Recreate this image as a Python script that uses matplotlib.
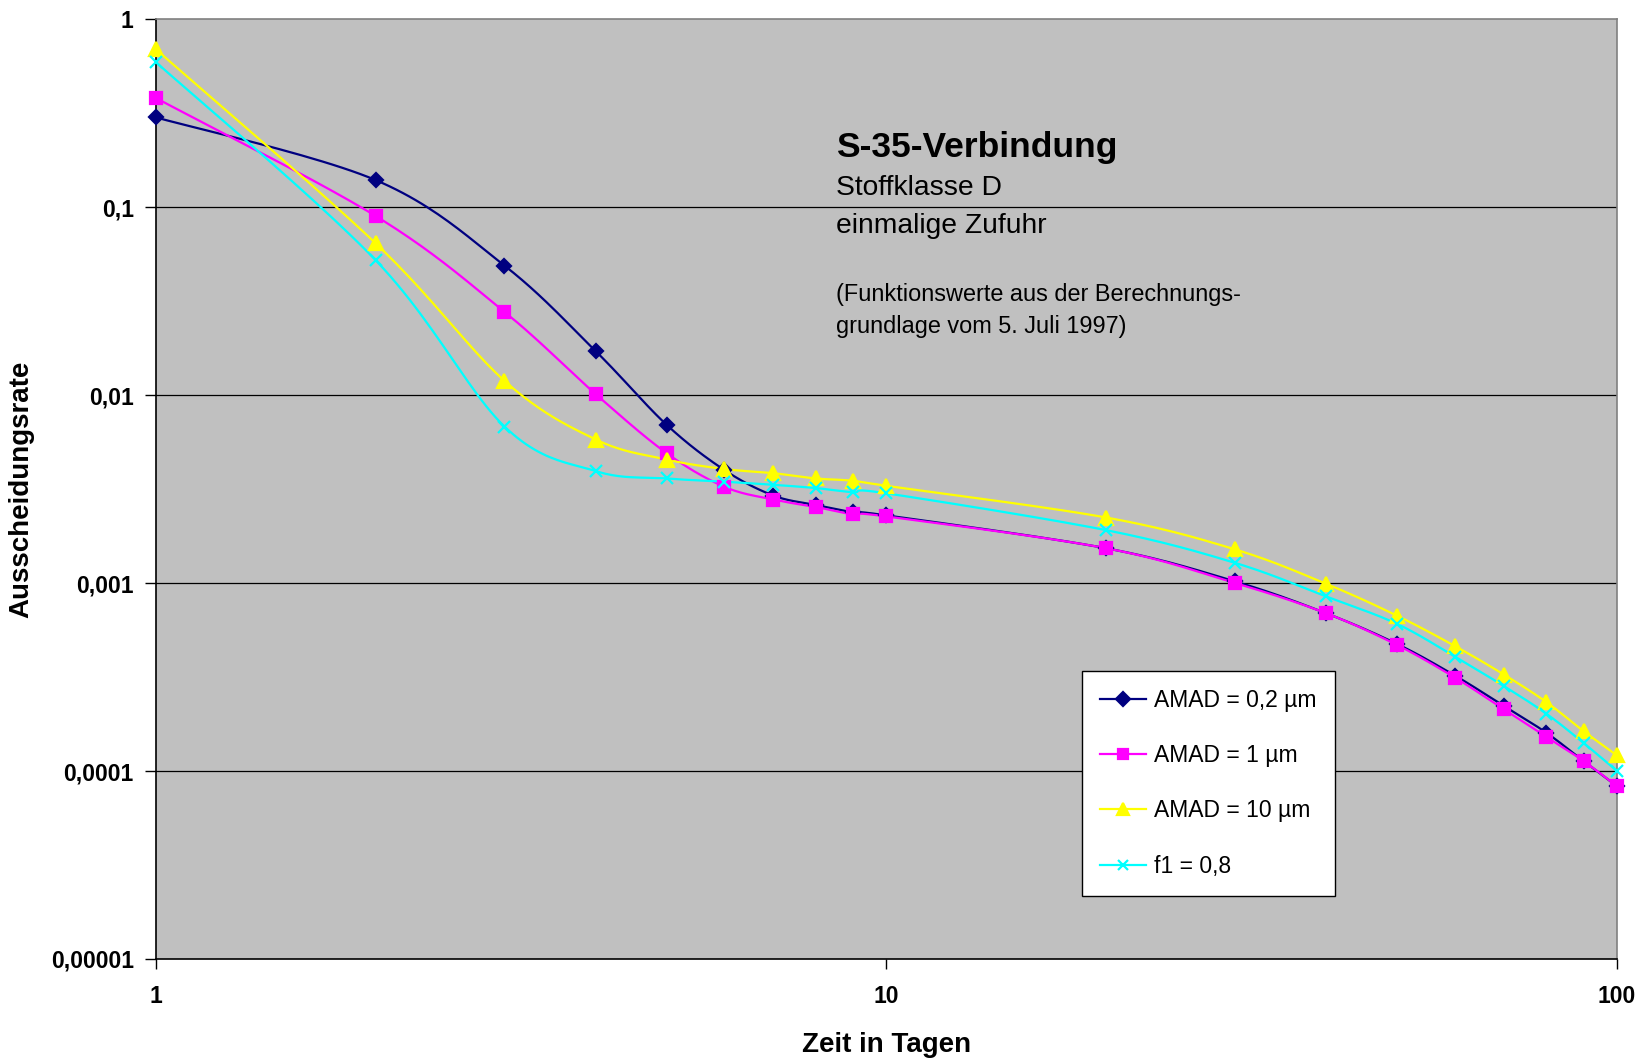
import numpy as np
import matplotlib
matplotlib.use('Agg')
import matplotlib.pyplot as plt
from matplotlib.lines import Line2D
from matplotlib.ticker import FixedLocator, FixedFormatter, NullLocator

plt.rcParams['font.family'] = ['Liberation Sans', 'DejaVu Sans']

# time in days
days = [1, 2, 3, 4, 5, 6, 7, 8, 9, 10, 20, 30, 40, 50, 60, 70, 80, 90, 100]

amad_02 = [0.30, 0.139, 0.0488, 0.0171, 0.00695, 0.00399, 0.00292, 0.0026, 0.00238,
           0.00229, 0.00153, 0.00102, 0.00069, 0.000474, 0.000322, 0.000222,
           0.00016, 0.000113, 0.000083]
amad_1 = [0.38, 0.0895, 0.0277, 0.0101, 0.00491, 0.00325, 0.00278, 0.00254, 0.00232,
          0.00226, 0.00153, 0.0010, 0.00069, 0.000468, 0.000314, 0.000213,
          0.000152, 0.000113, 0.000083]
amad_10 = [0.69, 0.064, 0.0119, 0.0058, 0.00454, 0.00404, 0.00384, 0.0036, 0.0035,
           0.00329, 0.00223, 0.00151, 0.00099, 0.00067, 0.000462, 0.000326,
           0.000233, 0.000163, 0.000121]
f1_08 = [0.59, 0.052, 0.0068, 0.00394, 0.0036, 0.00346, 0.00333, 0.0032, 0.00304,
         0.0030, 0.00191, 0.00128, 0.000848, 0.000606, 0.000406, 0.000283,
         0.000202, 0.000141, 0.0001]

series_labels = ['AMAD = 0,2 µm', 'AMAD = 1 µm', 'AMAD = 10 µm', 'f1 = 0,8']
y_ticks = [1, 0.1, 0.01, 0.001, 0.0001, 0.00001]
y_tick_labels = ['1', '0,1', '0,01', '0,001', '0,0001', '0,00001']
x_ticks = [1, 10, 100]
x_tick_labels = ['1', '10', '100']


def smooth_line(x, y, steps=24):
    """Excel-like smoothed line (Catmull-Rom beziers) drawn in log-log space"""
    pts = np.column_stack([np.log10(x), np.log10(y)])
    pts = np.vstack([pts[0], pts, pts[-1]])
    t = np.linspace(0, 1, steps, endpoint=False)[:, None]
    out = []
    for i in range(1, len(pts) - 2):
        p0, p1, p2, p3 = pts[i - 1], pts[i], pts[i + 1], pts[i + 2]
        c1 = p1 + (p2 - p0) / 6
        c2 = p2 - (p3 - p1) / 6
        seg = ((1 - t) ** 3) * p1 + 3 * ((1 - t) ** 2) * t * c1 \
            + 3 * (1 - t) * t ** 2 * c2 + t ** 3 * p2
        out.append(seg)
    out.append(pts[-1][None, :])
    out = np.vstack(out)
    return 10 ** out[:, 0], 10 ** out[:, 1]


fig = plt.figure(figsize=(16.52, 10.60), dpi=100)
ax = fig.add_axes([0.0944, 0.0953, 0.8844, 0.8867])
ax.set_facecolor('#C0C0C0')
ax.set_xscale('log')
ax.set_yscale('log')
ax.set_xlim(1, 100)
ax.set_ylim(0.00001, 1)

for yt in y_ticks[1:-1]:
    ax.axhline(yt, color='black', lw=0.9, zorder=1)

styles = [
    dict(color='#000080', marker='D', ms=7.5),
    dict(color='#FF00FF', marker='s', ms=8),
    dict(color='#FFFF00', marker='^', ms=9.5),
    dict(color='#00FFFF', marker='x', ms=8.5),
]
handles = []
for vals, st, lab in zip([amad_02, amad_1, amad_10, f1_08], styles, series_labels):
    sx, sy = smooth_line(days, vals)
    ax.plot(sx, sy, color=st['color'], lw=1.6, zorder=3, clip_on=False)
    ax.plot(days, vals, ls='none', marker=st['marker'], ms=st['ms'],
            color=st['color'], mew=1.6, zorder=4, clip_on=False)
    handles.append(Line2D([], [], color=st['color'], lw=1.6, marker=st['marker'],
                          ms=st['ms'] * 0.9, mew=1.6, label=lab))

ax.xaxis.set_major_locator(FixedLocator(x_ticks))
ax.xaxis.set_major_formatter(FixedFormatter(x_tick_labels))
ax.xaxis.set_minor_locator(NullLocator())
ax.yaxis.set_major_locator(FixedLocator(y_ticks))
ax.yaxis.set_major_formatter(FixedFormatter(y_tick_labels))
ax.yaxis.set_minor_locator(NullLocator())
ax.tick_params(axis='x', length=7, width=1, pad=12, labelsize=16.5)
ax.tick_params(axis='y', length=8, width=1, pad=8, labelsize=16.5)
for lab in ax.get_xticklabels() + ax.get_yticklabels():
    lab.set_fontweight('bold')

ax.spines['left'].set_color('black')
ax.spines['bottom'].set_color('black')
ax.spines['top'].set_color('#808080')
ax.spines['right'].set_color('#808080')
for sp in ax.spines.values():
    sp.set_linewidth(1.2)

ax.set_xlabel('Zeit in Tagen', fontsize=20, fontweight='bold', labelpad=17)
ax.set_ylabel('Ausscheidungsrate', fontsize=20, fontweight='bold', labelpad=12)

tx = 836 / 1652
fig.text(tx, 1 - 148 / 1060, 'S-35-Verbindung', fontsize=25.5,
         fontweight='bold', va='center', ha='left')
fig.text(tx, 1 - 188 / 1060, 'Stoffklasse D', fontsize=20.3,
         va='center', ha='left')
fig.text(tx, 1 - 226 / 1060, 'einmalige Zufuhr', fontsize=20.3,
         va='center', ha='left')
fig.text(tx, 1 - 294 / 1060, '(Funktionswerte aus der Berechnungs-',
         fontsize=16.9, va='center', ha='left')
fig.text(tx, 1 - 326 / 1060, 'grundlage vom 5. Juli 1997)',
         fontsize=16.9, va='center', ha='left')

leg = ax.legend(handles=handles, loc='upper left',
                bbox_to_anchor=(1082 / 1652, 1 - 671 / 1060),
                bbox_transform=fig.transFigure, fontsize=16.5, frameon=True,
                fancybox=False, edgecolor='black', facecolor='white',
                framealpha=1, handlelength=2.0, handletextpad=0.35,
                labelspacing=1.4, borderpad=0.8, borderaxespad=0)
leg.get_frame().set_linewidth(1)
leg.set_zorder(5)

fig.savefig('out.png', dpi=100, facecolor='white')
